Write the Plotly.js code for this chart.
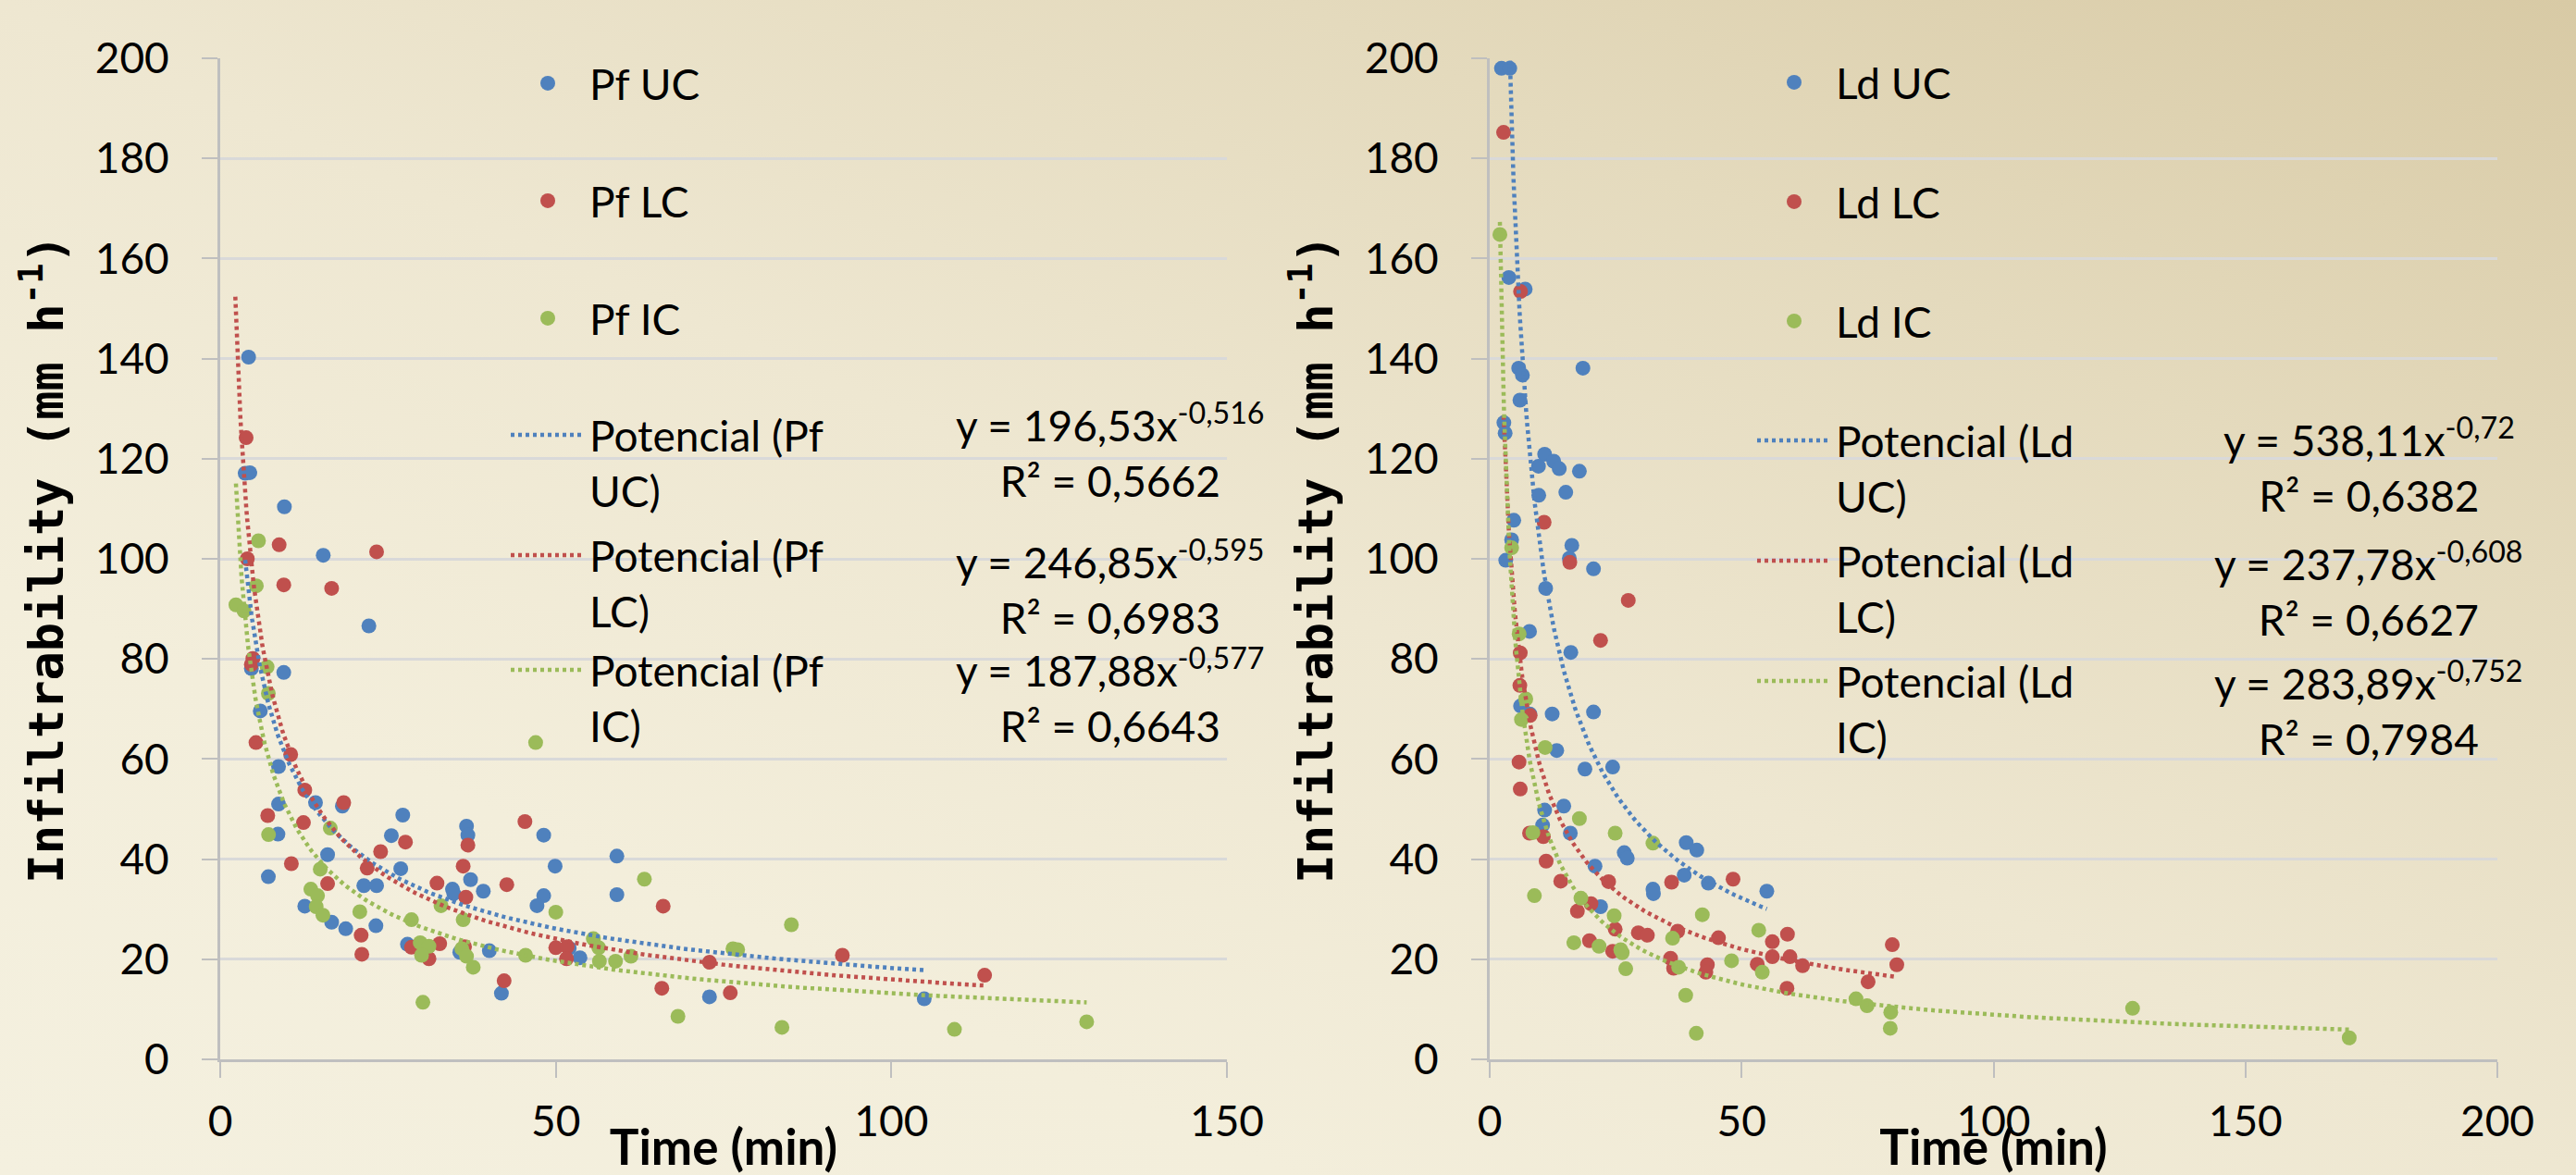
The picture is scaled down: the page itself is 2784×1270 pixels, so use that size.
<!DOCTYPE html>
<html><head><meta charset="utf-8">
<script src="https://cdn.plot.ly/plotly-3.0.1.min.js"></script>
<style>
html,body{margin:0;padding:0;}
body{width:2784px;height:1270px;overflow:hidden;
background:linear-gradient(to bottom left,#D8CAA5 0%,#E4DABD 25%,#EEE7D1 50%,#F3EEDB 75%,#F4F0DF 100%);}
#chart{width:2784px;height:1270px;}
</style></head><body><div id="chart"></div><script>
// ---------- DATA ----------
// Left panel: Pf
const pfUC_t=[4.23,3.72,4.41,9.56,15.35,22.15,4.64,9.47,5.97,8.69,8.69,8.6,7.17,14.2,18.2,16.0,12.6,16.6,18.7,21.4,23.3,23.2,25.5,27.2,26.9,27.9,34.6,34.8,36.7,36.9,37.3,39.2,35.7,40.1,41.9,48.2,49.9,48.2,47.2,52.0,53.6,59.1,59.1,72.9,104.9];
const pfUC_v=[140.3,117.1,117.2,110.4,100.7,86.6,78.1,77.3,69.6,58.5,51.0,45.0,36.5,51.3,50.6,40.9,30.6,27.4,26.1,34.7,34.7,26.7,44.7,48.8,38.1,23.0,34.0,33.1,46.6,44.8,35.9,33.6,21.4,21.7,13.2,44.8,38.6,32.7,30.7,22.2,20.3,40.6,32.9,12.5,12.1];
const pfLC_t=[3.86,8.78,23.3,4.04,9.47,16.6,4.87,4.64,5.33,10.5,12.6,18.4,7.08,12.4,10.6,16.0,23.9,21.9,27.6,21.0,21.1,28.5,31.1,32.7,32.3,36.2,36.6,36.9,36.4,45.4,42.7,42.3,50.0,51.7,51.6,66.0,65.8,72.9,76.0,92.7,113.9];
const pfLC_v=[124.2,102.8,101.4,100.0,94.8,94.1,80.1,78.9,63.3,60.9,53.8,51.3,48.7,47.3,39.1,35.1,41.5,38.2,43.4,24.8,21.0,22.4,20.1,23.1,35.2,38.6,32.4,42.8,22.5,47.5,34.9,15.7,22.3,22.5,20.1,30.6,14.2,19.4,13.3,20.8,16.8];
const pfIC_t=[5.7,5.38,2.34,3.54,6.99,7.17,7.2,16.4,14.9,13.5,14.5,14.3,15.3,20.8,28.5,32.9,29.8,31.1,30.0,36.2,36.0,36.7,37.7,30.2,47.0,45.5,50.0,63.2,85.1,55.6,56.4,56.5,58.9,61.2,76.4,77.1,68.2,83.7,109.4,129.1];
const pfIC_v=[103.6,94.6,90.8,89.6,78.4,73.1,44.9,46.2,38.0,34.0,32.7,30.5,28.8,29.5,27.9,30.7,23.3,22.6,20.8,27.9,22.1,20.6,18.4,11.4,63.3,20.8,29.4,36.0,26.9,24.1,22.3,19.6,19.6,20.6,22.1,21.9,8.6,6.4,6.0,7.5];
// Right panel: Ld
const ldUC_t=[2.33,3.98,3.8,7.04,5.75,6.49,18.5,6.0,2.81,3.06,10.9,12.7,9.68,13.8,17.8,9.74,15.1,4.78,4.35,3.18,16.3,15.8,20.6,11.1,7.9,16.1,6.12,7.96,12.4,20.6,13.3,18.9,24.4,10.9,14.7,10.5,16.0,26.7,27.3,20.9,22.0,32.4,32.5,39.0,41.1,38.6,43.4,55.0];
const ldUC_v=[198.0,198.0,156.2,153.9,138.1,136.7,138.1,131.7,127.2,125.1,120.9,119.5,118.5,118.0,117.5,112.7,113.3,107.7,103.8,99.7,102.7,100.1,98.0,94.1,85.5,81.3,70.6,69.0,69.0,69.4,61.7,58.0,58.4,49.8,50.6,46.8,45.2,41.3,40.2,38.6,30.5,34.0,33.1,43.3,41.8,36.8,35.2,33.6];
const ldLC_t=[2.75,6.12,10.8,15.9,27.5,22.0,6.06,5.98,8.02,5.82,6.06,7.9,10.65,11.2,14.1,20.1,17.4,23.6,24.9,19.8,24.4,29.5,31.3,36.1,37.3,35.9,36.5,43.2,42.9,48.3,45.4,53.1,56.1,59.1,56.1,59.6,62.1,59.0,79.9,80.8,75.1];
const ldLC_v=[185.2,153.4,107.3,99.3,91.7,83.7,81.2,74.7,68.7,59.4,54.0,45.2,44.5,39.6,35.6,31.1,29.6,35.5,26.0,23.7,21.6,25.3,24.8,35.4,25.6,20.2,18.2,18.9,17.4,36.0,24.3,19.0,23.5,25.0,20.5,20.5,18.7,14.2,22.9,18.9,15.5];
const ldIC_t=[2.02,4.35,5.84,7.16,6.3,11.0,8.57,8.87,17.8,24.9,32.4,18.1,24.7,16.7,21.7,26.0,26.3,27.0,36.3,37.5,42.2,38.9,41.0,48.0,53.4,54.1,72.7,74.9,79.6,79.5,127.6,170.6];
const ldIC_v=[164.8,102.2,85.0,72.0,67.9,62.3,45.3,32.7,48.1,45.2,43.2,32.2,28.7,23.3,22.6,21.9,21.3,18.1,24.2,18.4,28.9,12.8,5.2,19.7,25.8,17.4,12.1,10.7,9.4,6.2,10.2,4.3];

// Power trendlines as printed on the chart: y = a * x^b
const pfNames=['Pf UC','Pf LC','Pf IC'];
const pfTrendA=[196.53,246.85,187.88];
const pfTrendB=[-0.516,-0.595,-0.577];
const pfTrendR2=['0,5662','0,6983','0,6643'];
const pfTrendFrom=[3.72,2.25,2.34];
const pfTrendTo=[104.9,113.9,129.1];
const ldNames=['Ld UC','Ld LC','Ld IC'];
const ldTrendA=[538.11,237.78,283.89];
const ldTrendB=[-0.72,-0.608,-0.752];
const ldTrendR2=['0,6382','0,6627','0,7984'];
const ldTrendFrom=[2.33,2.75,2.02];
const ldTrendTo=[55.0,80.8,170.6];

const xTitle='Time (min)';
const yTitle='Infiltrability (mm h<sup>-1</sup>)';

// ---------- STYLE ----------
const W=2784,H=1270;
const colors=['#4F81BD','#C0504D','#9BBB59'];
const fontMain='Lato, "Open Sans", sans-serif';
const numFmt=v=>String(v).replace('.',',');

function trendCurve(a,b,x0,x1){
  const xs=[],ys=[],n=150;
  for(let i=0;i<=n;i++){const x=x0*Math.pow(x1/x0,i/n);xs.push(x);ys.push(a*Math.pow(x,b));}
  return {xs,ys};
}

const traces=[];
const legends={};
const annotations=[];
let legendIdx=1;
function legendName(){const n=legendIdx===1?'legend':'legend'+legendIdx;legendIdx++;return n;}
function mkLegend(xpx,ypx,valign){
  return {x:xpx/W,y:1-ypx/H,xanchor:'left',yanchor:'middle',xref:'paper',yref:'paper',
    bgcolor:'rgba(0,0,0,0)',borderwidth:0,itemwidth:80,valign:valign||'middle',
    font:{family:fontMain,size:46,color:'#000'}};
}

function addPanel(names,sets,A,B,R2,from,to,xa,ya,legX,legY,eqX,eqY,prefix){
  for(let k=0;k<3;k++){
    const ln=legendName();
    legends[ln]=mkLegend(legX,legY[k]);
    traces.push({type:'scatter',mode:'markers',x:sets[k][0],y:sets[k][1],xaxis:xa,yaxis:ya,
      name:names[k],legend:ln,marker:{color:colors[k],size:16},cliponaxis:true});
  }
  for(let k=0;k<3;k++){
    const ln=legendName();
    legends[ln]=mkLegend(legX,legY[3+k],'top');
    const c=trendCurve(A[k],B[k],from[k],to[k]);
    traces.push({type:'scatter',mode:'lines',x:c.xs,y:c.ys,xaxis:xa,yaxis:ya,
      name:'Potencial ('+prefix+'<br>'+names[k].split(' ')[1]+')',legend:ln,
      line:{color:colors[k],width:4.5,dash:'4px,4px'},hoverinfo:'skip'});
    annotations.push({xref:'paper',yref:'paper',x:eqX/W,y:1-eqY[k]/H,xanchor:'center',yanchor:'middle',
      align:'center',showarrow:false,font:{family:fontMain,size:46,color:'#000'},
      text:'y = '+numFmt(A[k])+'x<sup>'+numFmt(B[k])+'</sup><br>R² = '+R2[k]});
  }
}

addPanel(pfNames,[[pfUC_t,pfUC_v],[pfLC_t,pfLC_v],[pfIC_t,pfIC_v]],pfTrendA,pfTrendB,pfTrendR2,pfTrendFrom,pfTrendTo,
  'x','y',547,[90,217,344,500,630,754],1200,[486,634,751],'Pf');
addPanel(ldNames,[[ldUC_t,ldUC_v],[ldLC_t,ldLC_v],[ldIC_t,ldIC_v]],ldTrendA,ldTrendB,ldTrendR2,ldTrendFrom,ldTrendTo,
  'x2','y2',1894,[89,218,347,506,636,766],2560,[503,636,766],'Ld');

const yb=(H-1145)/H, yt=(H-63)/H;
const axBase={showline:true,linecolor:'#BFBFBF',linewidth:3,ticks:'outside',ticklen:17,tickwidth:2,
  tickcolor:'#BFBFBF',tickfont:{family:fontMain,size:46,color:'#000'},zeroline:false,automargin:false,fixedrange:true};
function xAxis(dom,max,anchor){
  return Object.assign({},axBase,{domain:dom,range:[0,max],dtick:50,anchor:anchor,showgrid:false,
    ticklabelstandoff:8,
    title:{text:xTitle,font:{family:fontMain,size:53,weight:700,color:'#000'},standoff:10}});
}
function yAxis(anchor){
  return Object.assign({},axBase,{domain:[yb,yt],range:[0,200],dtick:20,anchor:anchor,showgrid:true,
    gridcolor:'#D9D9D9',gridwidth:3,ticklabelstandoff:26,
    title:{text:yTitle,font:{family:'"DejaVu Sans Mono", monospace',size:52,weight:700,color:'#000'},standoff:18}});
}

const layout=Object.assign({
  width:W,height:H,margin:{l:0,r:0,t:0,b:0},
  paper_bgcolor:'rgba(0,0,0,0)',plot_bgcolor:'rgba(0,0,0,0)',
  xaxis:xAxis([238/W,1326/W],150,'y'),
  yaxis:yAxis('x'),
  xaxis2:xAxis([1610/W,2699/W],200,'y2'),
  yaxis2:yAxis('x2'),
  showlegend:true,
  annotations:annotations
},legends);

Plotly.newPlot('chart',traces,layout,{staticPlot:true,displayModeBar:false});
</script></body></html>
